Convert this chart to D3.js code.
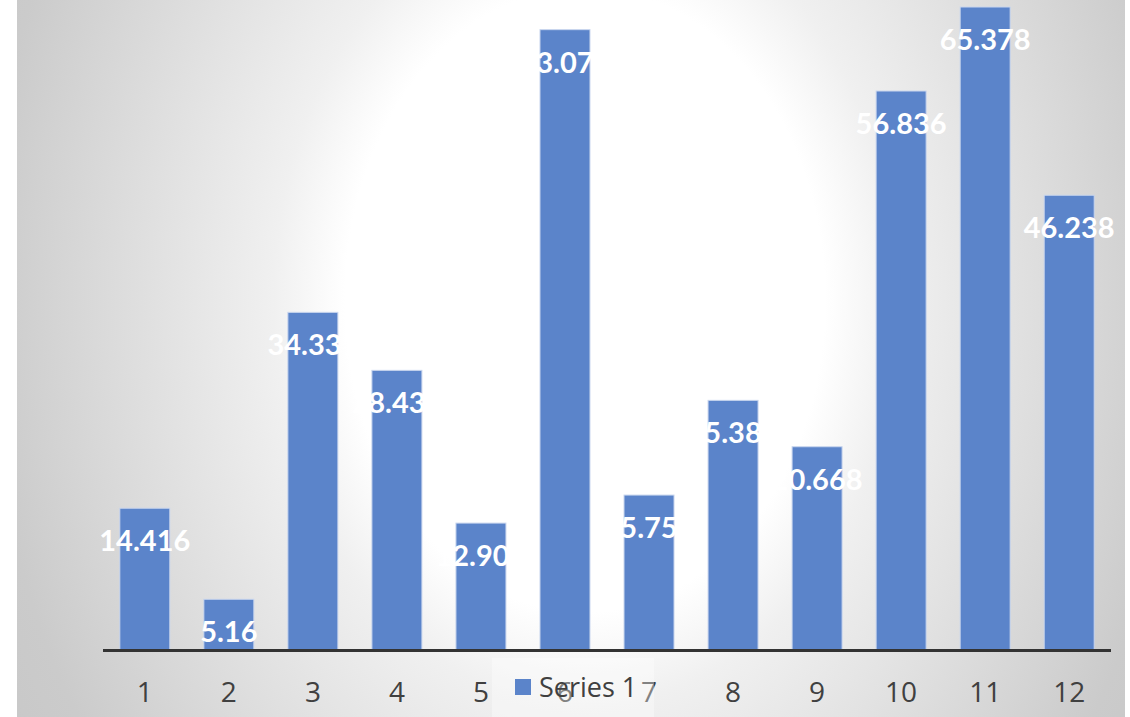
<!DOCTYPE html>
<html>
<head>
<meta charset="utf-8">
<script src="https://cdn.jsdelivr.net/npm/d3@7"></script>
<style>
  html, body { margin: 0; padding: 0; background: #fff; }
  svg { display: block; }
</style>
</head>
<body>
<div id="chart"></div>
<script>
// chart data
const categories = ["1", "2", "3", "4", "5", "6", "7", "8", "9", "10", "11", "12"];
const values = [14.416, 5.16, 34.331, 28.434, 12.904, 63.074, 15.753, 25.384, 20.668, 56.836, 65.378, 46.238];
const seriesName = "Series 1";

const width = 1130, height = 717;
const baseY = 650;

const svg = d3.select("#chart").append("svg")
  .attr("width", width)
  .attr("height", height);

// background gradient, white in the middle and grey at the corners
const defs = svg.append("defs");
const grad = defs.append("radialGradient")
  .attr("id", "bg")
  .attr("gradientUnits", "userSpaceOnUse")
  .attr("cx", 585).attr("cy", 300).attr("r", 800)
  .attr("gradientTransform", "translate(585,300) scale(1,1.3) translate(-585,-300)");
grad.append("stop").attr("offset", "0%").attr("stop-color", "#ffffff");
grad.append("stop").attr("offset", "30%").attr("stop-color", "#ffffff");
grad.append("stop").attr("offset", "39%").attr("stop-color", "#f0f0f0");
grad.append("stop").attr("offset", "75%").attr("stop-color", "#cbcbcb");
grad.append("stop").attr("offset", "100%").attr("stop-color", "#c2c2c2");

svg.append("rect")
  .attr("x", 17).attr("y", 0)
  .attr("width", 1108).attr("height", height)
  .attr("fill", "url(#bg)");

// scales
const x = d3.scaleBand()
  .domain(categories)
  .range([103, 1111])
  .paddingInner(0.405)
  .paddingOuter(0.2);

const y = d3.scaleLinear()
  .domain([0, 65.378])
  .range([baseY, 7]);

// bars
svg.append("g").selectAll("rect")
  .data(values)
  .enter().append("rect")
    .attr("x", (d, i) => x(categories[i]))
    .attr("y", d => y(d))
    .attr("width", x.bandwidth())
    .attr("height", d => baseY - y(d))
    .attr("fill", "#5b84ca")
    .attr("stroke", "#c9d6ee")
    .attr("stroke-width", 1);

// x axis line
svg.append("line")
  .attr("x1", 103).attr("x2", 1111)
  .attr("y1", baseY + 0.5).attr("y2", baseY + 0.5)
  .attr("stroke", "#333")
  .attr("stroke-width", 3);

// tick labels
const xAxis = d3.axisBottom(x).tickSize(0).tickPadding(0);
const axisG = svg.append("g")
  .attr("transform", "translate(0," + baseY + ")")
  .call(xAxis);
axisG.select(".domain").remove();
axisG.selectAll("text")
  .attr("y", 52)
  .attr("dy", 0)
  .attr("fill", "#404040")
  .style("font-family", "'Open Sans', Lato, sans-serif")
  .style("font-size", "28px");

// data labels
svg.append("g").selectAll("text")
  .data(values)
  .enter().append("text")
    .attr("x", (d, i) => x(categories[i]) + x.bandwidth() / 2)
    .attr("y", d => y(d) + 43)
    .attr("text-anchor", "middle")
    .attr("fill", "#ffffff")
    .style("font-family", "Lato, 'Open Sans', sans-serif")
    .style("font-weight", "bold")
    .style("font-size", "29px")
    .text(d => d.toFixed(3).replace(/0+$/, "").replace(/\.$/, ""));

// legend (semi-transparent box over the axis labels)
const legend = svg.append("g");
legend.append("rect")
  .attr("x", 492).attr("y", 658)
  .attr("width", 162).attr("height", 59)
  .attr("fill", "#ffffff")
  .attr("opacity", 0.35);
legend.append("rect")
  .attr("x", 515).attr("y", 679)
  .attr("width", 16).attr("height", 16)
  .attr("fill", "#5b84ca");
legend.append("text")
  .attr("x", 539).attr("y", 697)
  .attr("fill", "#404040")
  .style("font-family", "'Open Sans', Lato, sans-serif")
  .style("font-size", "27px")
  .text(seriesName);
</script>
</body>
</html>
